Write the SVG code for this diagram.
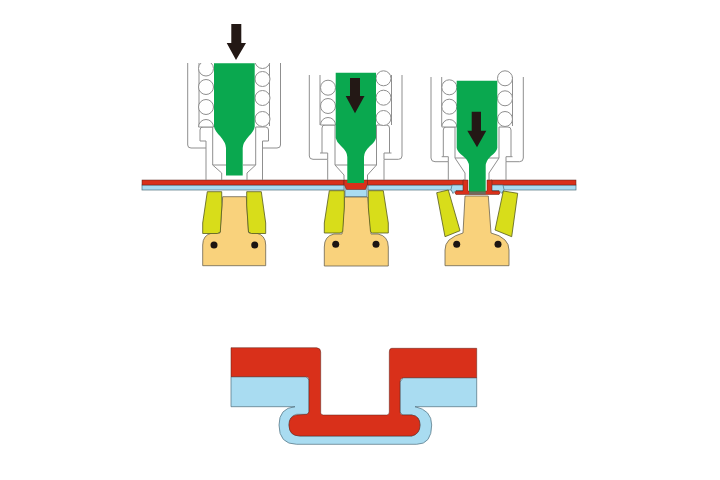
<svg xmlns="http://www.w3.org/2000/svg" width="720" height="480" viewBox="0 0 720 480">
<style>
.h{fill:none;stroke:#8f8f8f;stroke-width:1}
.c{fill:#fff;stroke:#8f8f8f;stroke-width:1}
.w{fill:#fff}
.g{fill:#0aa84f}
.a{fill:#231815}
.r{fill:#d9301a;stroke:#5a2018;stroke-width:.5}
.b{fill:#a9dcf1;stroke:#4f6f7c;stroke-width:.7}
.y{fill:#d8dd1a;stroke:#555a20;stroke-width:.8}
.t{fill:#f9d27c;stroke:#6b6350;stroke-width:.8}
.d{fill:#1c1512}
</style>
<rect width="720" height="480" fill="#fff"/>
<g id="sheet">
<rect class="b" x="142" y="185" width="202" height="5"/>
<rect class="b" x="368" y="185" width="96" height="5"/>
<rect class="b" x="491" y="185" width="85" height="5"/>
<rect class="r" x="142" y="180" width="202" height="5"/>
<rect class="r" x="367" y="180" width="97" height="5"/>
<rect class="r" x="491" y="180" width="85" height="5"/>
</g>
<g id="station1">
<path class="h" d="M187.700 63V145Q187.700 148 191 148H206V180M199 63V126M206 148V141H200V130Q200 127 203 127H212.700V165L221.700 173V180M212.700 165H226"/>
<path class="h" d="M280.500 63V145Q280.500 148 277 148H262.500V180M269.500 63V126M262.500 148V141H268.500V130Q268.500 127 265.500 127H255.700V165L247 173V180M255.700 165H243"/>
<circle class="c" cx="206" cy="68.500" r="7.500"/><circle class="c" cx="206" cy="87" r="7.500"/><circle class="c" cx="206" cy="107" r="7.500"/>
<path class="c" d="M198.500 127A7.500 7.500 0 0 1 213.500 127Z"/>
<circle class="c" cx="262.500" cy="61" r="7.500"/><circle class="c" cx="262.500" cy="79" r="7.500"/><circle class="c" cx="262.500" cy="98" r="7.500"/><circle class="c" cx="262.500" cy="119" r="7.500"/>
<rect class="w" x="192" y="50" width="84" height="13"/>
<path class="g" d="M214 63.300H254.700V126.700Q254 131 249 136Q242.700 143 242.700 148V175.500H226V148Q226 143 220 136Q215 131 214 126.700Z"/>
<path class="a" d="M231.300 24H241.300V43H246L236 60L226.700 43H231.300Z"/>
<path class="t" d="M222.700 196.700H246.300L248.500 232L249 233H256Q265.700 235 265.700 245V265.700H202.700V245Q202.700 235 212 233H220L222 205Z"/>
<path class="y" d="M207.300 191.700H221.700L221.900 205L220.300 232L217.300 233.500H202.700V223Z"/>
<path class="y" d="M246.700 191.700H261.300L265.700 223V233.500H251.500L248.500 232L246.700 205Z"/>
<circle class="d" cx="214" cy="245" r="3.500"/><circle class="d" cx="254.700" cy="245" r="3.500"/>
</g>
<g id="station2">
<path class="h" d="M309.300 75V156Q309.300 159.300 313 159.300H327.700V180M320 75V125M327.700 159V153H320M322 153V128Q322 125 325 125H335V165L344 175V180M335 165H348"/>
<path class="h" d="M402 75V156Q402 159.300 398.500 159.300H384V180M391.500 75V125M384 159V153H391.500M389.500 153V128Q389.500 125 386.500 125H376.500V165L367.500 175V180M376.500 165H364"/>
<circle class="c" cx="328" cy="87.700" r="7.500"/><circle class="c" cx="328" cy="106" r="7.500"/>
<path class="c" d="M320.500 125A7.500 7.500 0 0 1 335.500 125Z"/>
<circle class="c" cx="383.500" cy="78.300" r="7.500"/><circle class="c" cx="383.500" cy="97.700" r="7.500"/><circle class="c" cx="383.500" cy="118" r="7.500"/>
<path class="t" d="M344.300 197H367.700L371 232V234H378Q388.300 236 388.300 247V266H324.300V247Q324.300 236 334 234H342L344.300 205Z"/>
<path class="b" d="M345 184H367V196.500H345Z"/>
<path class="r" d="M344 180H367.500V184L365.500 189.500H346.500L344 184Z"/>
<path class="g" d="M335.700 72.700H376V138Q375 142 370 146Q364 151.700 364 157V183H347.300V157Q347.300 151.700 341 146Q336.500 142 335.700 138Z"/>
<path class="a" d="M350 78H360V96H364.500L355 113.300L345.700 96H350Z"/>
<path class="y" d="M329.300 190.700H344.300V207L342.700 231.700L340 233H324.300V223Z"/>
<path class="y" d="M368.300 190.700H383.300L388.300 223V233H372.500L370.500 231.700L368.300 207Z"/>
<circle class="d" cx="335.700" cy="244.300" r="3.500"/><circle class="d" cx="376" cy="244.300" r="3.500"/>
</g>
<g id="station3">
<path class="h" d="M431 77V158Q431 161.700 435 161.700H448.300V180M441.700 77V126M448.300 161.700V156.700H441.700M443.300 156.700V130Q443.300 127 446 127H455V158L465 173V180M455 158H469"/>
<path class="h" d="M523.300 77V158Q523.300 161.700 519.500 161.700H506V180M512.500 77V126M506 161.700V156.700H512.500M511 156.700V130Q511 127 508 127H499V158L489 173V180M499 158H486"/>
<circle class="c" cx="449.300" cy="87.300" r="7.500"/><circle class="c" cx="449.300" cy="106.700" r="7.500"/>
<path class="c" d="M441.800 127A7.500 7.500 0 0 1 456.800 127Z"/>
<circle class="c" cx="505" cy="78.300" r="7.500"/><circle class="c" cx="505" cy="98.300" r="7.500"/><circle class="c" cx="505" cy="119" r="7.500"/>
<path class="t" d="M465 196H488.300L491 233Q500 235 505 240Q509 244 509 250V265.700H445V250Q445 244 449 240Q455 235 463 233Z"/>
<path class="b" d="M464 185H452Q449.500 190 453 193.500L456 190.500H464ZM491 185H503Q505.500 190 502 193.500L499 190.500H491Z"/>
<path class="r" d="M463 180H468V191H487V180H492V191H499Q501 193 499 194.500H456Q454 193 456 191H463Z"/>
<path class="g" d="M456.700 80.700H497.300V148Q496.500 152 491 156Q485.700 161 485.700 166V191.700H469V166Q469 161 463 156Q457.500 152 456.700 148Z"/>
<path fill="#6d6a5c" d="M469 191.700H485.700V194.500H469Z"/>
<path class="a" d="M471.700 111.700H481V130.700H486.300L477 147.300L467.300 130.700H471.700Z"/>
<path class="y" d="M436.700 192.700L448.300 190L460 230.700L445 236.700Z"/>
<path class="y" d="M503.300 191L517.700 193.300L511.700 236.700L495 230Z"/>
<circle class="d" cx="456.700" cy="244.300" r="3.500"/><circle class="d" cx="498" cy="244.300" r="3.500"/>
</g>
<g id="detail">
<path class="b" d="M231 376.700H306L309 380V412L307.300 414.300H296.700Q289 416 289 425Q289 436 300 436H411.700Q420 434 420 425Q420 416 411.700 415H402.700L400 412V382L403.300 377.700H476.700V406.700H415Q431.700 410 431.700 425Q431.700 444.300 416.700 444.300H296.700Q279 444.300 279 425Q279 408 295 406.700H231Z"/>
<path class="r" d="M231 347.700H316.700Q320.700 348 320.700 352V413Q321 415 323.300 415H386.700Q389.300 415 389.300 412V352Q389.300 348.300 391.700 348.300H476.700V377.700H403.300Q400 378 400 382V412Q400 415 402.700 415H411.700Q420 416 420 425Q420 434 411.700 436H300Q289 436 289 425Q289 416 296.700 415L307.300 414.300L309 412V380Q309 376.700 306 376.700H231Z"/>
</g>
</svg>
